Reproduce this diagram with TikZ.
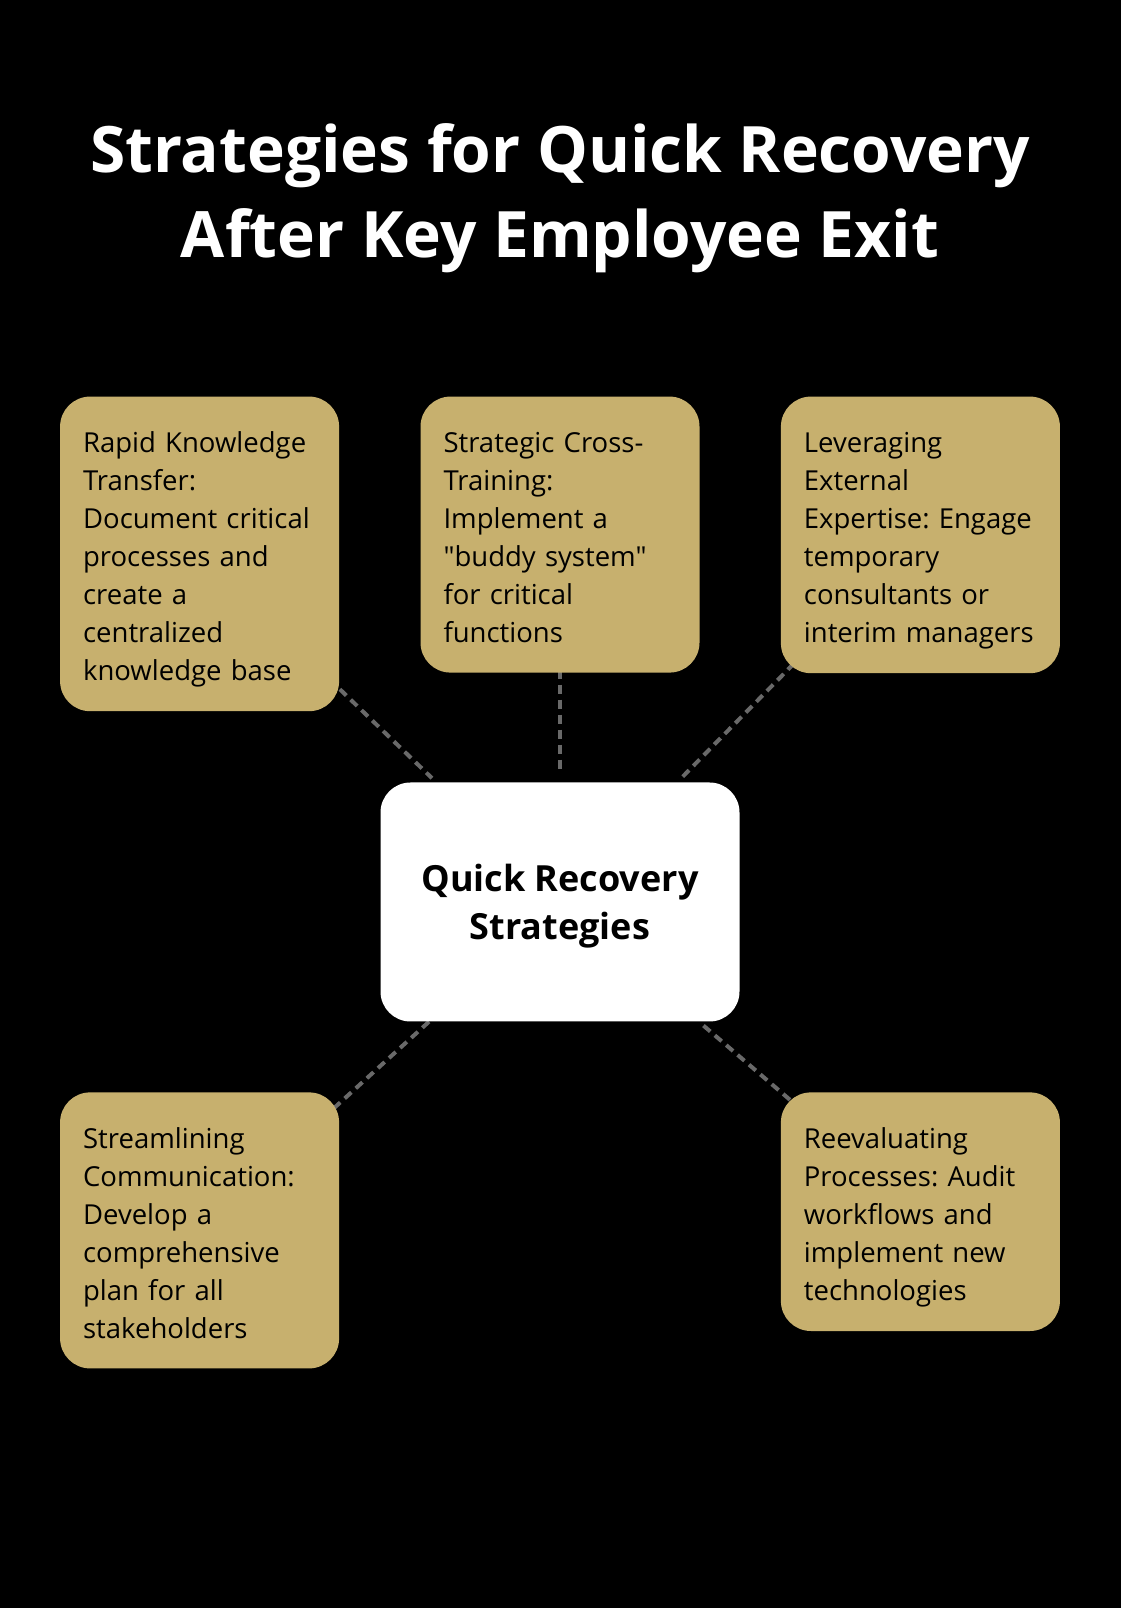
\documentclass[tikz,border=0pt]{standalone}
\usepackage{fontspec}
\setmainfont{Open Sans}[Ligatures=TeXOff]
\usetikzlibrary{positioning,backgrounds}
\definecolor{krgold}{RGB}{199,176,110}
\definecolor{krlink}{RGB}{105,105,105}

\begin{document}
\frenchspacing
\begin{tikzpicture}[x=1pt,y=1pt,every node/.style={align=left},
    card/.style={fill=krgold,rounded corners=30pt,text width=233pt,inner xsep=23pt,inner ysep=24pt,
      font=\fontsize{27.5}{38}\selectfont,
      execute at begin node={\rule{0pt}{32pt}},execute at end node={\rule[-6pt]{0pt}{6pt}}},
    link/.style={draw=krlink,line width=4pt,dash pattern=on 9pt off 6pt}]
        \useasboundingbox (0,0) rectangle (1120,1608);
        \node[white,font=\fontsize{64}{85}\selectfont\bfseries,align=center,inner sep=0pt,anchor=north] (title) at (560,1485) {Strategies for Quick Recovery\\After Key Employee Exit};
        \node[fill=white,rounded corners=30pt,minimum width=359pt,minimum height=239pt,align=center,font=\fontsize{36}{48}\selectfont\bfseries] (hub) at (560,706) {\rule{0pt}{36pt}Quick Recovery\\Strategies};
        \node[card,above=109.5pt of hub] (cross) {Strategic Cross-\\Training:\\Implement a\\"buddy system"\\for critical\\functions};
        \node[card,left=81pt of cross.north west,anchor=north east] (rapid) {Rapid Knowledge\\Transfer:\\Document critical\\processes and\\create a\\centralized\\knowledge base};
        \node[card,right=81pt of cross.north east,anchor=north west] (expert) {Leveraging\\External\\Expertise: Engage\\temporary\\consultants or\\interim managers};
        \node[card,below left=70.5pt and 41pt of hub.south west] (comm) {Streamlining\\Communication:\\Develop a\\comprehensive\\plan for all\\stakeholders};
        \node[card,below right=70.5pt and 41pt of hub.south east] (reeval) {Reevaluating\\Processes: Audit\\workflows and\\implement new\\technologies};
        \begin{scope}[on background layer]
          \fill[black] (-3,-3) rectangle (1123,1611);
          \draw[link,shorten >=6pt] (rapid.center) -- (hub);
          \draw[link,shorten >=9pt] (cross.center) -- (hub);
          \draw[link,shorten >=6pt] (expert.center) -- (hub);
          \draw[link] (hub) -- (comm.center);
          \draw[link,shorten <=6pt] (hub) -- (reeval.center);
        \end{scope}
      \end{tikzpicture}
\end{document}
